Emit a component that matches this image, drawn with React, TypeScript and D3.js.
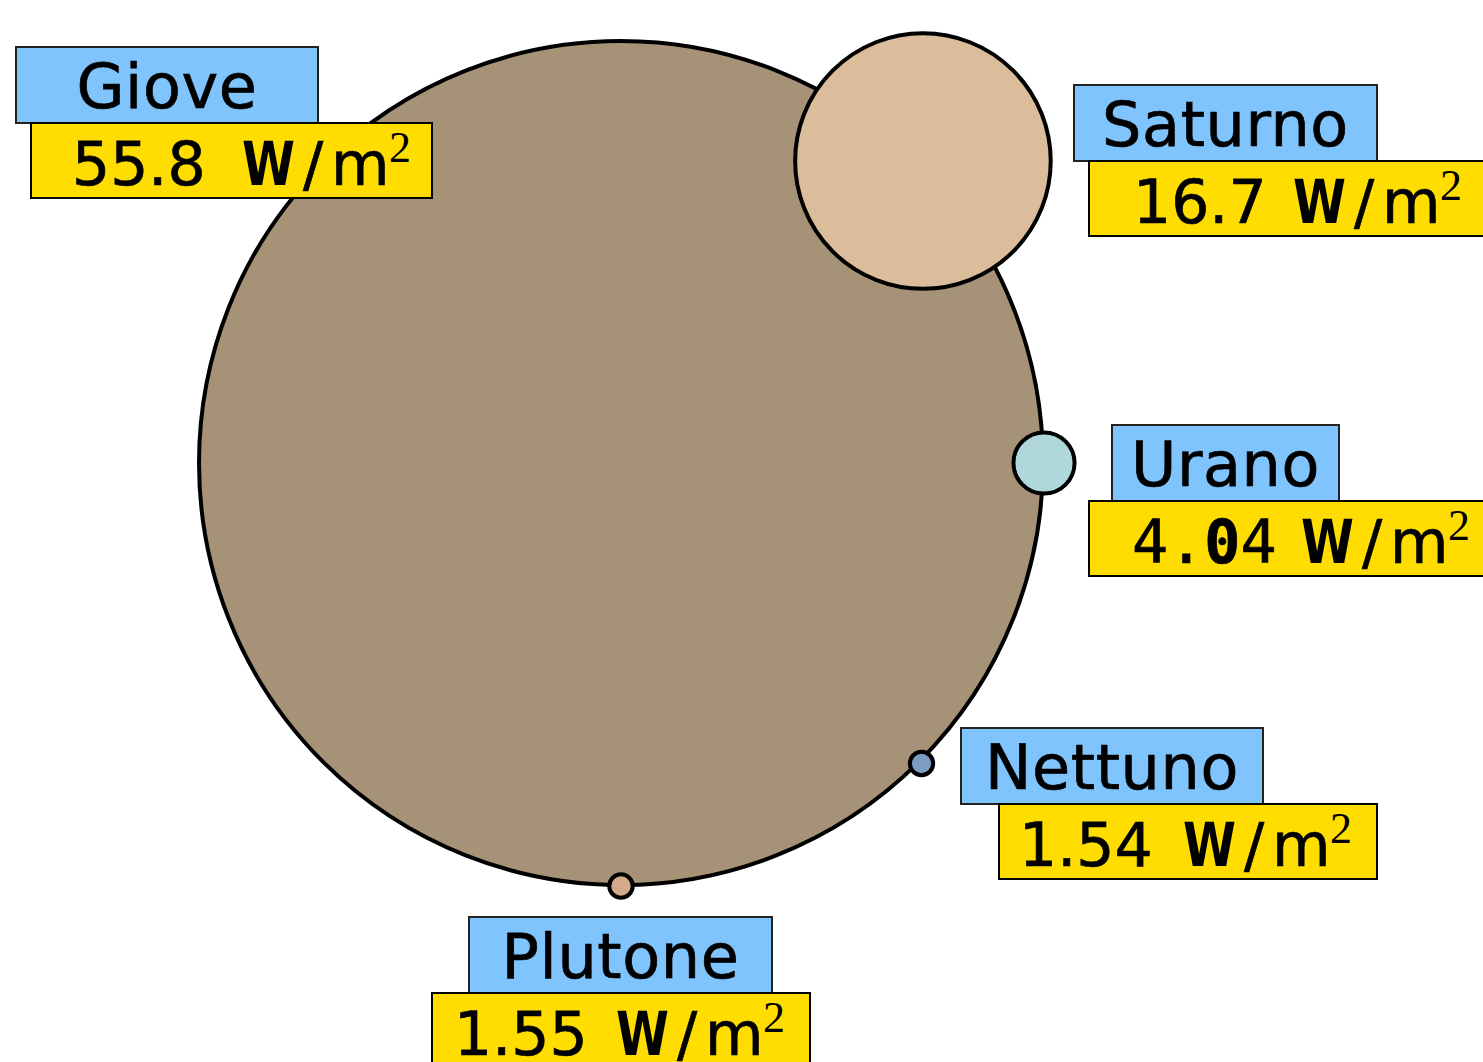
import React from "react";
import * as d3 from "d3";

// ---- data ----
const planets = ["Giove", "Saturno", "Urano", "Nettuno", "Plutone"];
const flux = [55.8, 16.7, 4.04, 1.54, 1.55]; // W/m^2
const unitLabel = ["W", "/", "m", "2"];

// ---- styles / layout ----
const fills = ["#a69276", "#dbbc9b", "#b0d8dc", "#7b9cc3", "#d5aa8b"];
const angleDeg = [NaN, -45, 0, 45, 90]; // placement on Jupiter's rim
const rimOffset = [0, 5, 1, 3, 1];
const monoNumber = [false, false, true, false, false];
// label boxes: blue name box (x,y,w) and yellow value box (x,w); number origin; unit origin
const labelLayout = [
  { bx: 16, by: 47, bw: 302, yx: 31, yw: 401, nx: 72, ux: 242 },
  { bx: 1074, by: 85, bw: 303, yx: 1089, yw: 400, nx: 1133, ux: 1293 },
  { bx: 1112, by: 425, bw: 227, yx: 1089, yw: 400, nx: 1132, ux: 1301 },
  { bx: 961, by: 728, bw: 302, yx: 999, yw: 378, nx: 1019, ux: 1183 },
  { bx: 469, by: 917, bw: 303, yx: 432, yw: 378, nx: 454, ux: 616 },
];

const W = 1483;
const H = 1062;
const cx = 621;
const cy = 463;
const BOX_H = 75;
const TXT = { fill: "#000", stroke: "#000", strokeWidth: 0.7 };

export default function App() {
  const r = d3.scaleLinear().domain([0, d3.max(flux) as number]).range([0, 422]);
  const fmt = d3.format(".3r");
  const Rj = r(flux[0]);

  const centers = flux.map((v, i) => {
    if (i === 0) return [cx, cy];
    const a = (angleDeg[i] * Math.PI) / 180;
    const d = Rj + rimOffset[i];
    return [cx + d * Math.cos(a), cy + d * Math.sin(a)];
  });

  const renderNumber = (i: number) => {
    const s = fmt(flux[i]);
    if (!monoNumber[i]) return s;
    return s.split("").map((ch, k) => (
      <tspan key={k} fontWeight={ch === "0" ? "bold" : "normal"}>
        {ch}
      </tspan>
    ));
  };

  return (
    <svg
      width={W}
      height={H}
      style={{ position: "absolute", left: 0, top: 0, background: "#fff" }}
    >
      <rect x={0} y={0} width={W} height={H} fill="#fff" />
      {flux.map((v, i) => (
        <circle
          key={planets[i]}
          cx={centers[i][0]}
          cy={centers[i][1]}
          r={r(v) + (i === 1 ? 1.5 : 0)}
          fill={fills[i]}
          stroke="#000"
          strokeWidth={4}
        />
      ))}
      {planets.map((name, i) => {
        const L = labelLayout[i];
        const yy = L.by + BOX_H + 1;
        const base = yy + 62;
        return (
          <g key={"lab" + name}>
            <rect x={L.bx} y={L.by} width={L.bw} height={BOX_H + 1} fill="#80c4fd" stroke="#222" strokeWidth={2} />
            <rect x={L.yx} y={yy} width={L.yw} height={BOX_H} fill="#ffdd00" stroke="#000" strokeWidth={2} />
            <text
              x={L.bx + L.bw / 2}
              y={L.by + 61}
              textAnchor="middle"
              fontFamily="DejaVu Sans"
              fontSize={62}
              letterSpacing={0.6}
              {...TXT}
            >
              {name}
            </text>
            <text
              x={L.nx}
              y={base}
              fontFamily={monoNumber[i] ? "DejaVu Sans Mono" : "DejaVu Sans"}
              fontSize={60}
              {...TXT}
            >
              {renderNumber(i)}
            </text>
            <text
              transform={`translate(${L.ux},${base}) scale(0.8,1)`}
              fontFamily="DejaVu Sans"
              fontWeight="bold"
              fontSize={60}
              fill="#000"
            >
              {unitLabel[0]}
            </text>
            <text x={L.ux + 61} y={base} fontFamily="DejaVu Sans" fontSize={60} {...TXT}>
              {unitLabel[1]}
            </text>
            <text x={L.ux + 89} y={base} fontFamily="DejaVu Sans" fontSize={60} {...TXT}>
              {unitLabel[2]}
            </text>
            <text x={L.ux + 147} y={base - 23} fontFamily="Liberation Serif" fontSize={44} fill="#000">
              {unitLabel[3]}
            </text>
          </g>
        );
      })}
    </svg>
  );
}
